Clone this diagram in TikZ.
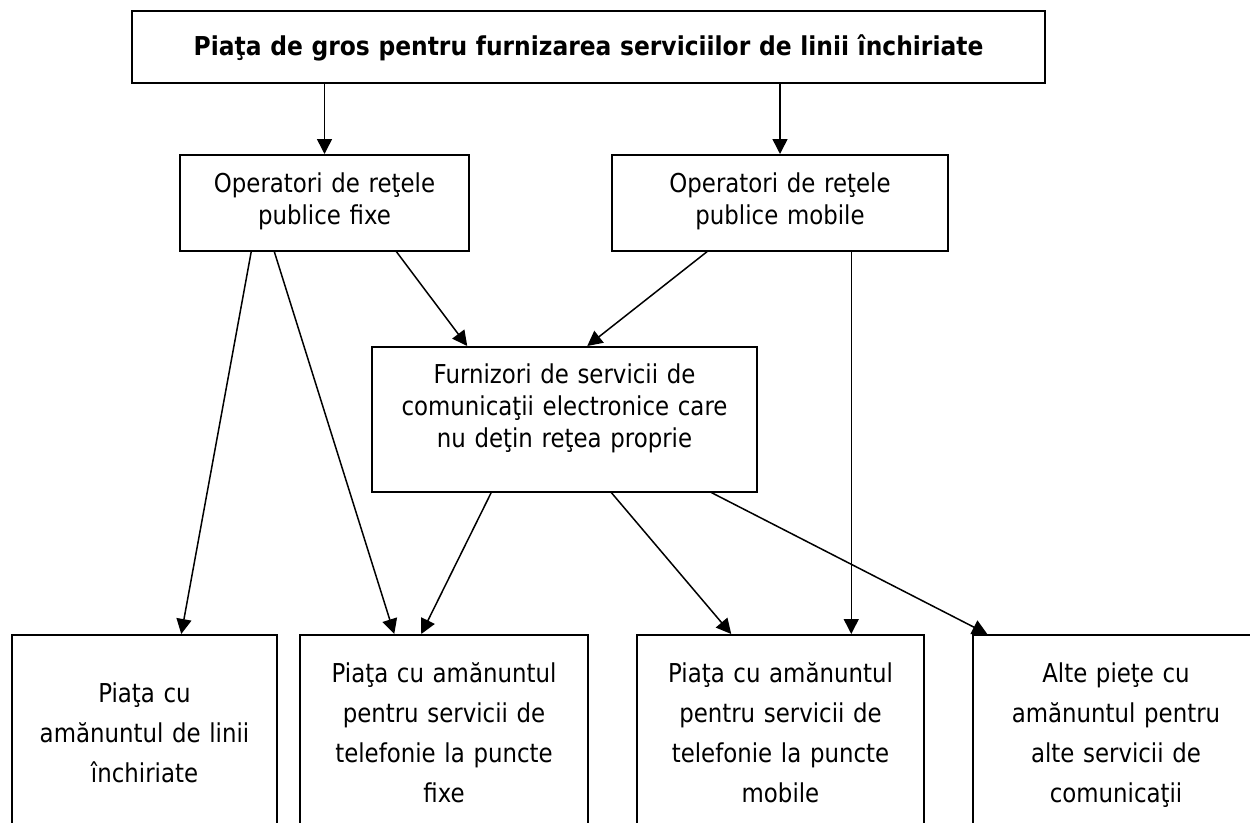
\documentclass[tikz,border=0pt]{standalone}
\usepackage{fontspec}
\setmainfont{DejaVu Sans}[FakeStretch=0.88,BoldFeatures={FakeStretch=0.9}]
\usetikzlibrary{arrows.meta}
\def\lw{1.5pt}

\begin{document}
\begin{tikzpicture}[
    x=1pt,y=-1pt,
    box/.style={draw,line width=\lw,inner sep=0pt,align=center,anchor=north,font=\fontsize{26}{32}\selectfont},
    opbox/.style={box,text width=#1,text height=38pt,text depth=58pt},
    retail/.style={box,font=\fontsize{26}{40}\selectfont,text width=#1,text height=48pt,text depth=200pt},
    arr/.style={line width=\lw,-{Triangle[length=15pt,width=15pt]}}
  ]

  \useasboundingbox (0,0) rectangle (1250,822);
  \clip (0,0) rectangle (1250,822);

  \node[box,text width=913pt,text height=45pt,text depth=27pt,font=\fontsize{26}{32}\selectfont\bfseries] (gros) at (588.5,10) {Piaţa de gros pentru furnizarea serviciilor de linii închiriate};
  \node[opbox=289pt] (fixe) at (324.5,154) {Operatori de reţele\\publice fixe};
  \node[opbox=336pt] (mobil) at (780,154) {Operatori de reţele\\publice mobile};
  \node[box,text width=385pt,text height=37pt,text depth=108pt] (furn) at (564.5,346) {Furnizori de servicii de\\comunicaţii electronice care\\nu deţin reţea proprie};

  \node[retail=265pt,text height=68pt] (linii) at (144.5,634) {Piaţa cu\\amănuntul de linii\\închiriate};
  \node[retail=288pt] (tfix) at (444,634) {Piaţa cu amănuntul\\pentru servicii de\\telefonie la puncte\\fixe};
  \node[retail=287pt] (tmob) at (780.5,634) {Piaţa cu amănuntul\\pentru servicii de\\telefonie la puncte\\mobile};
  \node[retail=286pt] (alte) at (1116,634) {Alte pieţe cu\\amănuntul pentru\\alte servicii de\\comunicaţii};

  \draw[arr] (gros.south -| fixe.north) -- (fixe.north);
  \draw[arr] (gros.south -| mobil.north) -- (mobil.north);
  \draw[arr] ([xshift=72pt]fixe.south west) -- ([xshift=170pt]linii.north west);
  \draw[arr] ([xshift=95pt]fixe.south west) -- ([xshift=95pt]tfix.north west);
  \draw[arr] ([xshift=217pt]fixe.south west) -- ([xshift=96pt]furn.north west);
  \draw[arr] ([xshift=96pt]mobil.south west) -- ([xshift=216pt]furn.north west);
  \draw[arr] ([xshift=240pt]mobil.south west) -- ([xshift=215pt]tmob.north west);
  \draw[arr] ([xshift=120pt]furn.south west) -- ([xshift=122pt]tfix.north west);
  \draw[arr] ([xshift=240pt]furn.south west) -- ([xshift=95pt]tmob.north west);
  \draw[arr] ([xshift=340pt]furn.south west) -- ([xshift=15pt]alte.north west);

\end{tikzpicture}
\end{document}
